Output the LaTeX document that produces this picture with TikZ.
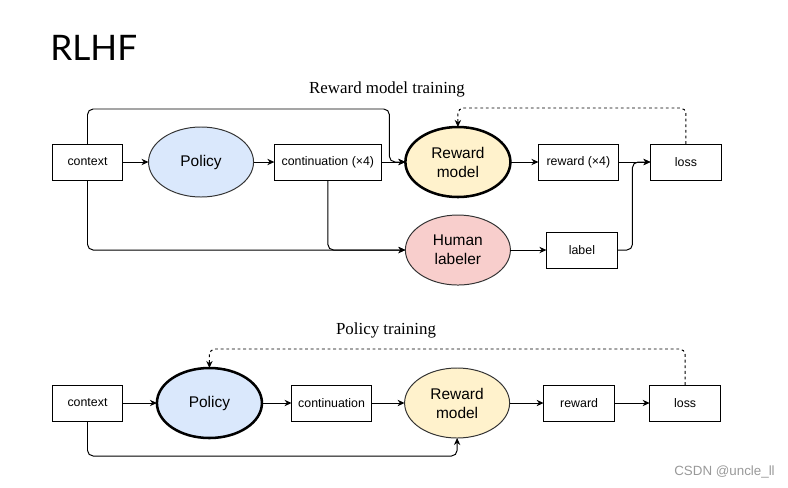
\documentclass[tikz,border=0pt]{standalone}
\usepackage{fontspec}
\setmainfont{Liberation Serif}
\setsansfont{Liberation Sans}
\newfontfamily\titlefont{Lato}
\usepackage{xcolor}
\usetikzlibrary{positioning, calc, shapes.geometric, arrows.meta}
\definecolor{policyblue}{HTML}{DAE8FC}
\definecolor{rewardyellow}{HTML}{FFF2CC}
\definecolor{humanred}{HTML}{F8CECC}
\tikzset{
    box/.style = {draw=black, line width=0.7pt, minimum height=0.9cm, inner sep=0pt, outer sep=0pt,
        font=\sffamily\fontsize{8.8}{10}\selectfont},
    blob/.style = {ellipse, draw=black!80, line width=0.7pt, minimum width=2.625cm,
        minimum height=1.75cm, inner sep=0pt, outer sep=0pt, align=center,
        font=\sffamily\fontsize{11}{13.5}\selectfont},
    active/.style = {blob, draw=black, line width=1.8pt},
    flow/.style = {-{Stealth[length=5pt,width=4.5pt]}, line width=0.7pt, rounded corners=4pt},
    feedback/.style = {flow, dash pattern=on 2pt off 2pt},
    heading/.style = {font=\fontsize{12}{14}\selectfont},
}

\begin{document}
\begin{tikzpicture}[x=0.025cm, y=-0.025cm]
            \useasboundingbox (0,0) rectangle (788,487);
            \node (title) [anchor=base west, inner sep=0pt, font=\titlefont\fontsize{25}{28}\selectfont] at (50,60) {RLHF};
            % reward model training
            \node (head1) [heading] at (387,89) {Reward model training};
            \node (ctx1) [box, minimum width=1.75cm] at (87.5,162) {context};
            \node (pol1) [blob, fill=policyblue, right=0.65cm of ctx1] {Policy};
            \node (cont1) [box, minimum width=2.675cm, right=0.52cm of pol1] {continuation (×4)};
            \node (rm1) [active, fill=rewardyellow, right=0.6cm of cont1] {Reward\\model};
            \node (rew1) [box, minimum width=2cm, right=0.7cm of rm1] {reward (×4)};
            \node (loss1) [box, minimum width=1.775cm, right=0.8cm of rew1] {loss};
            \node (hum1) [blob, fill=humanred, below=0.45cm of rm1] {Human\\labeler};
            \node (lab1) [box, minimum width=1.775cm, right=0.9cm of hum1] {label};
            \draw [flow] (ctx1) -- (pol1);
            \draw [flow] (pol1) -- (cont1);
            \draw [flow] (cont1) -- (rm1);
            \draw [flow] (ctx1.north) |- ($(rm1.west)+(-16,-53)$) -- ($(rm1.west)+(-16,0)$) -- (rm1.west);
            \draw [flow] (ctx1.south) |- (hum1.west);
            \draw [flow] (cont1.south) |- (hum1.west);
            \draw [flow] (rm1) -- (rew1);
            \draw [flow] (rew1) -- (loss1);
            \draw [flow] (hum1) -- (lab1);
            \draw [flow] (lab1.east) -| ($(loss1.west)+(-18,0)$) -- (loss1.west);
            \draw [feedback] (loss1.north) -- ++(0,-36) -| (rm1.north);
            % policy training
            \node (head2) [heading] at (386,330) {Policy training};
            \node (ctx2) [box, minimum width=1.75cm] at (87.5,403) {context};
            \node (pol2) [active, fill=policyblue, right=0.86cm of ctx2] {Policy};
            \node (cont2) [box, minimum width=2cm, right=0.74cm of pol2] {continuation};
            \node (rm2) [blob, fill=rewardyellow, right=0.825cm of cont2] {Reward\\model};
            \node (rew2) [box, minimum width=1.775cm, right=0.85cm of rm2] {reward};
            \node (loss2) [box, minimum width=1.775cm, right=0.875cm of rew2] {loss};
            \draw [flow] (ctx2) -- (pol2);
            \draw [flow] (pol2) -- (cont2);
            \draw [flow] (cont2) -- (rm2);
            \draw [flow] (rm2) -- (rew2);
            \draw [flow] (rew2) -- (loss2);
            \draw [flow] (ctx2.south) |- ($(rm2.south)+(0,18)$) -- (rm2.south);
            \draw [feedback] (loss2.north) -- ++(0,-36) -| (pol2.north);
            \node (mark) [anchor=base east, inner sep=0pt, text=black!40, font=\sffamily\fontsize{9.5}{11}\selectfont] at (775,475) {CSDN @uncle\_ll};
\end{tikzpicture}
\end{document}
